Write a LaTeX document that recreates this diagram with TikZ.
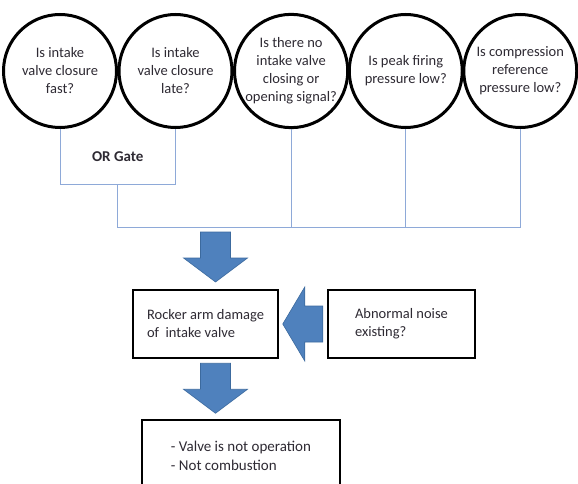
\documentclass[tikz,border=0pt]{standalone}
\usepackage{fontspec}
\setmainfont{Carlito}
\usetikzlibrary{positioning, calc}
\definecolor{WireBlue}{HTML}{8EA9D8}
\definecolor{ArrowBlue}{HTML}{4F81BD}
\definecolor{ArrowEdge}{HTML}{3C6A9E}
\definecolor{InkGray}{HTML}{2E2A33}
\tikzset{
  question/.style={circle, draw=black, line width=3pt, fill=white, minimum size=113pt, inner sep=0pt, align=center, text=InkGray, font=\fontsize{14.5}{18}\selectfont},
  factbox/.style={rectangle, draw=black, line width=2.5pt, fill=white, inner sep=0pt, align=left, text=InkGray, font=\fontsize{14.5}{18}\selectfont},
  gatelabel/.style={text=InkGray, font=\fontsize{15}{17}\selectfont\bfseries},
  wire/.style={draw=WireBlue, line width=1pt},
  blockarrow/.style={fill=ArrowBlue, draw=ArrowEdge, line width=0.6pt, line join=miter}
}

\begin{document}
\begin{tikzpicture}[x=1pt, y=-1pt]
  \useasboundingbox (0,0) rectangle (578,484);

  % question circles
  \node[question] (q1) at (60,71) {Is intake\\valve closure\\fast?};
  \node[question, right=-0.5pt of q1] (q2) {Is intake\\valve closure\\late?};
  \node[question, right=-0.5pt of q2] (q3) {Is there no\\intake valve\\closing or\\opening signal?};
  \node[question, right=-1.5pt of q3] (q4) {Is peak firing\\pressure low?};
  \node[question, right=-1.5pt of q4] (q5) {Is compression\\reference\\pressure low?};

  % wiring
  \coordinate (orbar) at (0,184);
  \coordinate (bus) at (0,227);
  \draw[wire] (q1.south) -- (q1.south |- orbar) -- (q2.south |- orbar) -- (q2.south);
  \coordinate (orjoin) at ($(q1.south |- orbar)!0.5!(q2.south |- orbar)$);
  \node[gatelabel] (orgate) at ($(orjoin)+(0,-27)$) {OR Gate};
  \draw[wire] (orjoin) -- (orjoin |- bus) -- (q5.south |- bus) -- (q5.south);
  \draw[wire] (q3.south) -- (q3.south |- bus);
  \draw[wire] (q4.south) -- (q4.south |- bus);

  % boxes
  \node[factbox, minimum width=145pt, minimum height=68pt] (rocker) at (205.5,324) {Rocker arm damage\\of\ \ intake valve};
  \node[factbox, minimum width=147pt, minimum height=68pt] (noise) at (401.5,324) {Abnormal noise\\existing?};
  \node[factbox, minimum width=198pt, minimum height=72pt, font=\fontsize{15}{19}\selectfont] (result) at (241,456) {- Valve is not operation\\- Not combustion};

  % block arrows
  \coordinate (dn1) at ([xshift=10pt]rocker.north |- bus);
  \coordinate (dn2) at ([xshift=10pt]rocker.south);
  \coordinate (lf) at (noise.west);
  \filldraw[blockarrow, shift={(dn1)}] (-15,5) -- (15,5) -- (15,31) -- (32,31) -- (0,55) -- (-32,31) -- (-15,31) -- cycle;
  \filldraw[blockarrow, shift={(dn2)}] (-15,4) -- (15,4) -- (15,30) -- (32,30) -- (0,54) -- (-32,30) -- (-15,30) -- cycle;
  \filldraw[blockarrow, shift={(lf)}] (-4,-18) -- (-4,18) -- (-22,18) -- (-22,37) -- (-44,0) -- (-22,-37) -- (-22,-18) -- cycle;
\end{tikzpicture}
\end{document}
